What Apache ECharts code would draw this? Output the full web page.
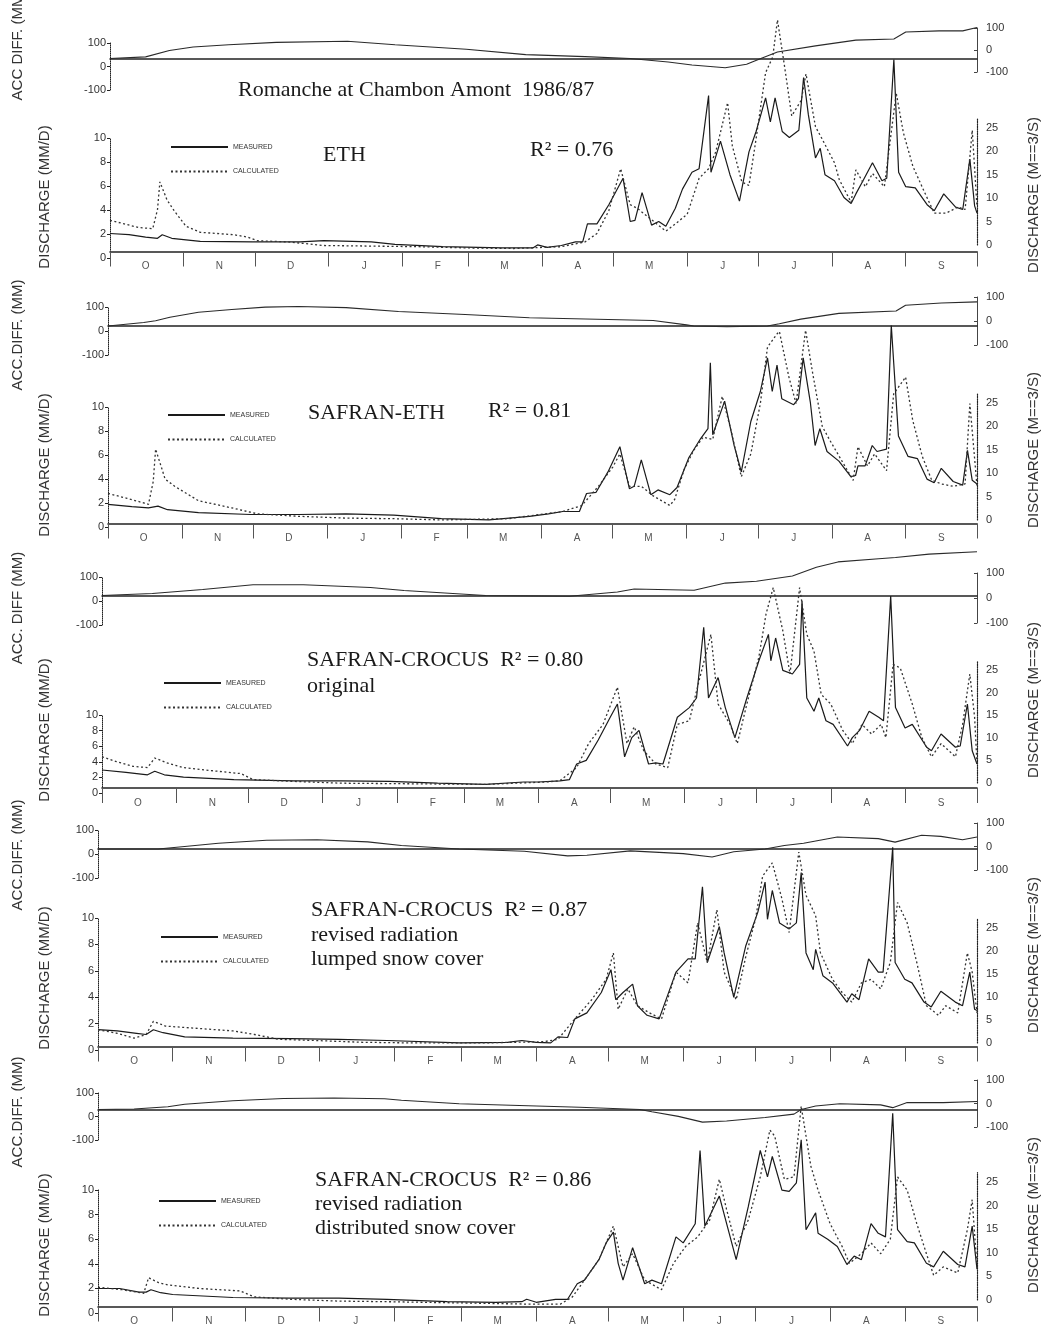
<!DOCTYPE html>
<html>
<head>
<meta charset="utf-8">
<script src="https://cdn.jsdelivr.net/npm/echarts@6/dist/echarts.min.js"></script>
<style>
  html, body { margin: 0; padding: 0; background: #fff; }
  #chart { width: 1046px; height: 1338px; }
</style>
</head>
<body>
<div id="chart"></div>
<script>
// hydrological year Oct 1986 - Sep 1987, x = day index from 1 Oct
const monthStarts = [0, 31, 61, 92, 123, 151, 182, 212, 243, 273, 304, 335, 365];
const monthMids = [15, 46, 76, 107, 138, 166, 197, 227, 258, 288, 319, 350];
const monthLetters = ['O', 'N', 'D', 'J', 'F', 'M', 'A', 'M', 'J', 'J', 'A', 'S'];

// --- ETH (discharge mm/d, [day, value]) ---
const measured1 = [[0,1.5],[8,1.4],[15,1.2],[20,1.1],[22,1.4],[26,1.1],[38,0.85],[60,0.8],[80,0.8],[90,0.9],[110,0.8],[120,0.6],[140,0.4],[165,0.3],[178,0.3],[180,0.55],[184,0.35],[190,0.5],[196,0.8],[199,0.8],[201,2.3],[205,2.3],[210,3.9],[213,5.0],[216,6.1],[219,2.5],[221,2.6],[224,4.9],[228,2.2],[231,2.5],[234,2.1],[238,3.6],[241,5.2],[245,6.6],[248,6.9],[252,13],[253,6.6],[257,9.2],[261,6.4],[265,4.2],[269,8.3],[272,10],[276,12.8],[278,10.8],[280,12.8],[283,10],[286,9.5],[290,10.1],[292,14.5],[294,11.4],[297,7.8],[299,8.6],[301,6.4],[305,5.9],[309,4.5],[312,4.0],[314,4.8],[317,5.9],[321,7.4],[325,5.9],[327,6.1],[330,16],[332,6.6],[335,5.4],[339,5.3],[344,3.9],[347,3.4],[351,4.8],[356,3.7],[359,3.5],[362,7.7],[364,3.8],[365,3.2]];
const calculated1 = [[0,2.6],[6,2.3],[12,2.0],[18,1.9],[20,3.5],[21,5.8],[24,4.3],[27,3.4],[32,2.1],[38,1.6],[52,1.4],[58,1.2],[62,0.9],[75,0.8],[90,0.5],[110,0.45],[130,0.4],[150,0.3],[170,0.25],[190,0.4],[200,0.8],[205,1.5],[210,3.4],[215,6.9],[219,3.9],[222,3.6],[227,2.8],[234,1.7],[238,2.3],[243,3.1],[248,6.1],[252,6.9],[255,8.3],[260,12.4],[262,8.8],[266,5.8],[269,5.5],[272,9.4],[276,14.9],[279,16.2],[281,19.3],[284,15.4],[287,11.3],[291,12.6],[293,14.8],[297,10.4],[300,9.3],[305,7.4],[307,6.0],[312,4.1],[314,6.8],[318,5.4],[321,6.5],[326,5.4],[331,13.2],[334,9.9],[338,7.1],[343,4.9],[347,3.2],[352,3.2],[357,3.7],[360,3.5],[363,10.1],[365,3.7]];
const accDiff1 = [[0,0],[15,7],[25,35],[35,50],[50,60],[70,70],[100,75],[120,60],[150,40],[175,17],[200,8],[219,0],[235,-15],[245,-28],[259,-40],[268,-25],[274,0],[281,28],[297,55],[314,80],[330,85],[335,115],[349,120],[359,120],[365,135]];

// --- SAFRAN-ETH ---
const measured2 = [[0,1.6],[10,1.4],[17,1.3],[21,1.45],[25,1.15],[38,0.9],[60,0.75],[80,0.75],[100,0.8],[120,0.7],[140,0.4],[160,0.3],[177,0.6],[185,0.8],[191,1.0],[198,1.0],[201,2.5],[205,2.6],[210,4.3],[215,6.4],[219,2.9],[221,3.1],[224,5.3],[228,2.4],[231,2.8],[236,2.4],[239,3.0],[244,5.5],[249,7.1],[252,7.9],[253,13.4],[254,7.4],[259,10.2],[263,6.5],[266,4.3],[270,8.5],[274,11],[277,13.8],[279,11],[281,13.2],[283,10.4],[288,9.9],[290,10.4],[292,13.8],[295,10.1],[297,6.5],[299,7.9],[302,6.0],[307,5.2],[312,3.9],[314,4.0],[315,4.8],[318,4.8],[321,6.5],[323,6.0],[327,6.2],[329,16.5],[332,7.3],[336,5.6],[340,5.4],[344,3.7],[347,3.4],[350,4.6],[355,3.5],[359,3.2],[361,6.1],[363,3.6],[365,3.3]];
const calculated2 = [[0,2.5],[8,2.1],[17,1.6],[19,3.5],[20,6.2],[24,3.7],[28,3.1],[38,1.9],[52,1.3],[63,0.8],[80,0.6],[100,0.45],[120,0.4],[140,0.3],[168,0.4],[191,1.0],[199,1.5],[206,3.1],[212,4.7],[215,5.8],[219,3.1],[224,3.1],[229,2.3],[236,1.5],[238,2.0],[242,4.5],[246,6.1],[250,7.2],[254,7.0],[258,10.6],[262,7.5],[266,3.9],[270,5.8],[274,10],[277,14.7],[281,15.8],[282,16],[286,12.2],[289,10],[293,16.1],[296,12.5],[300,8.1],[303,7],[308,5.3],[313,3.6],[315,6.4],[319,4.8],[322,5.8],[327,4.4],[330,10.8],[335,12.2],[338,8.6],[342,5.6],[346,3.6],[350,3.3],[355,3.1],[360,3.3],[362,10],[365,3.1]];
const accDiff2 = [[0,0],[15,15],[20,23],[26,38],[38,60],[52,72],[66,82],[80,85],[100,80],[122,63],[150,50],[177,36],[229,24],[243,5],[246,0],[260,-3],[277,0],[282,10],[291,30],[307,55],[331,65],[335,90],[350,100],[365,105]];

// --- SAFRAN-CROCUS original ---
const measured3 = [[0,1.5],[10,1.3],[19,1.1],[22,1.4],[26,1.1],[34,0.9],[55,0.7],[80,0.6],[100,0.6],[120,0.55],[140,0.4],[160,0.3],[176,0.5],[182,0.5],[191,0.6],[195,0.7],[198,2.0],[202,2.3],[207,4.0],[212,5.9],[215,7.0],[218,2.6],[221,4.2],[224,4.8],[228,2.0],[231,2.1],[234,2.0],[240,5.9],[245,6.7],[248,7.5],[251,13.4],[253,7.5],[257,9.2],[260,6.7],[264,4.2],[269,7.5],[274,10.6],[278,12.8],[279,10.6],[281,12.5],[284,9.8],[288,9.5],[291,10.3],[292,15.6],[294,7.5],[297,6.4],[299,7.5],[302,5.6],[305,5.3],[311,3.5],[313,4.2],[316,4.8],[320,6.4],[324,5.9],[326,5.6],[329,16],[331,6.7],[335,5.0],[338,5.3],[344,3.4],[346,3.1],[350,4.5],[356,3.4],[358,3.5],[361,7.0],[363,3.1],[365,2.0]];
const calculated3 = [[0,2.6],[6,2.2],[13,1.8],[19,1.7],[22,2.5],[27,2.1],[34,1.7],[48,1.4],[58,1.2],[63,0.7],[80,0.55],[100,0.4],[130,0.35],[160,0.3],[185,0.5],[191,0.6],[198,1.7],[203,3.7],[209,5.3],[215,8.4],[219,3.7],[222,5.1],[226,3.1],[231,2.0],[236,1.7],[240,5.3],[245,5.6],[249,8.9],[254,12.8],[257,7.0],[262,5.3],[265,3.7],[269,7.0],[274,10.9],[277,14.5],[280,16.7],[284,13.1],[287,9.5],[291,16.7],[294,12.8],[297,11.4],[300,7.8],[304,7.0],[309,4.8],[313,3.7],[317,5.3],[321,4.5],[325,5.3],[327,4.2],[330,10.3],[333,10],[338,7.0],[342,4.2],[346,2.6],[350,3.7],[356,2.6],[359,5.3],[362,9.5],[364,5.9],[365,2.0]];
const accDiff3 = [[0,0],[21,9],[42,26],[63,47],[84,47],[112,35],[126,22],[160,0],[195,-3],[215,15],[222,28],[247,23],[260,54],[273,62],[288,85],[298,123],[307,146],[324,160],[331,165],[345,180],[365,190]];

// --- SAFRAN-CROCUS revised radiation, lumped snow cover ---
const measured4 = [[0,1.4],[8,1.3],[16,1.1],[20,1.0],[23,1.4],[27,1.15],[36,0.8],[56,0.7],[80,0.65],[100,0.6],[120,0.5],[150,0.3],[170,0.35],[176,0.5],[182,0.35],[188,0.3],[191,0.8],[195,0.75],[198,2.3],[203,2.8],[209,4.5],[213,6.4],[215,3.9],[218,4.5],[222,5.2],[224,3.4],[228,2.6],[233,2.3],[240,6.2],[245,7.3],[248,7.3],[251,13.3],[253,7.0],[258,10],[260,7.8],[264,4.1],[269,8.4],[274,11.2],[277,13.7],[278,10.6],[280,13],[283,10.3],[287,9.8],[290,10.3],[292,14.5],[294,7.8],[297,6.4],[298,8.1],[301,5.9],[305,5.3],[311,3.7],[313,4.4],[316,3.9],[320,7.3],[324,6.2],[326,6.2],[330,16.6],[331,7.0],[335,5.6],[338,5.3],[343,3.7],[346,3.3],[350,4.6],[356,3.7],[359,3.4],[362,6.2],[364,3.1],[365,3.0]];
const calculated4 = [[0,1.4],[8,1.1],[15,0.7],[20,1.0],[23,2.1],[28,1.7],[42,1.5],[56,1.3],[65,1.0],[75,0.6],[90,0.5],[110,0.35],[130,0.3],[160,0.3],[185,0.4],[191,0.6],[198,2.3],[205,3.9],[211,5.6],[214,7.8],[216,3.1],[220,4.8],[224,3.4],[229,2.8],[234,2.3],[240,6.2],[245,5.3],[249,10.3],[253,7.0],[257,11.4],[260,6.2],[265,3.9],[269,7.5],[273,10.6],[276,14.2],[280,15.3],[284,12.3],[287,9.5],[291,16.2],[294,12.6],[298,10.9],[300,7.8],[305,5.6],[309,4.5],[313,3.7],[317,5.3],[321,5.6],[325,4.8],[329,7.0],[332,12],[336,10.3],[340,7.0],[344,3.4],[349,2.6],[352,3.4],[357,2.8],[361,7.8],[363,6.2],[365,2.8]];
const accDiff4 = [[0,0],[25,0],[36,11],[50,25],[70,38],[91,40],[112,31],[126,15],[150,0],[177,-10],[195,-30],[203,-27],[221,-8],[243,-20],[255,-35],[264,-12],[277,0],[285,15],[293,25],[307,52],[324,45],[331,30],[342,60],[350,55],[359,40],[365,52]];

// --- SAFRAN-CROCUS revised radiation, distributed snow cover ---
const measured5 = [[0,1.5],[9,1.5],[17,1.2],[20,1.2],[22,1.4],[26,1.15],[31,1.0],[56,0.75],[80,0.7],[100,0.7],[120,0.6],[145,0.4],[165,0.35],[176,0.4],[178,0.6],[182,0.35],[190,0.6],[195,0.6],[199,1.9],[202,2.2],[208,3.9],[211,5.3],[214,6.2],[216,3.6],[218,2.2],[222,4.9],[227,1.9],[230,2.2],[234,1.9],[240,5.8],[243,5.3],[248,6.9],[250,13],[252,6.7],[258,9.2],[265,3.9],[270,8.3],[275,13],[278,10.8],[280,12.5],[284,9.7],[287,9.6],[290,10.3],[292,13.9],[294,6.4],[298,7.8],[299,6.1],[303,5.6],[307,5.0],[311,3.5],[314,4.2],[317,3.9],[321,6.9],[324,6.1],[327,5.8],[330,16.1],[332,6.4],[336,5.4],[339,5.3],[344,3.6],[347,3.3],[351,4.6],[357,3.5],[360,3.3],[363,6.7],[365,3.1]];
const calculated5 = [[0,1.6],[10,1.4],[19,1.1],[21,2.4],[25,2.0],[29,1.8],[42,1.5],[59,1.3],[65,0.8],[80,0.6],[100,0.45],[120,0.4],[150,0.3],[178,0.2],[192,0.2],[197,0.8],[202,2.2],[208,3.9],[214,6.7],[218,3.3],[222,4.4],[227,2.2],[234,1.4],[239,3.6],[244,5.0],[249,5.8],[254,7.2],[258,10.6],[261,8.1],[265,5.0],[270,7.2],[275,10.8],[279,14.7],[281,14.2],[285,10.6],[289,10.8],[292,16.7],[296,11.7],[299,9.7],[304,6.9],[309,5.0],[312,3.6],[317,4.4],[321,5.3],[325,4.4],[329,5.6],[332,10.8],[336,9.7],[340,6.9],[344,4.4],[347,2.6],[351,3.3],[357,2.8],[361,6.4],[363,8.9],[365,3.3]];
const accDiff5 = [[0,0],[15,2],[29,12],[36,23],[56,38],[77,48],[98,50],[119,47],[126,40],[150,25],[200,10],[225,0],[230,-10],[241,-30],[251,-55],[261,-50],[277,-35],[289,-20],[292,0],[298,15],[308,25],[325,20],[330,8],[336,30],[351,30],[365,35]];

const INK = '#222';
const SANS = '"Liberation Sans", Arial, sans-serif';
const SERIF = '"Liberation Serif", "Times New Roman", serif';
const RIGHT_X = 977;
const MM_MAX = 20, PX_PER_MM = 12, ACC_HALF = 23;

// layout of each panel (pixel positions)
const panels = [
  { meas: measured1, calc: calculated1, acc: accDiff1, left: 110, acc0: 58.5, base: 251.5,
    accL: [43, 90], accR: [28, 72], disL: [138, 258], disR: [128, 245],
    accTitle: ['ACC DIFF. (MM)', 45], disTitle: 197, rTitle: 195, legend: [170, 147],
    notes: [['Romanche at Chambon Amont  1986/87', 238, 90], ['ETH', 323, 155], ['R² = 0.76', 530, 150]] },
  { meas: measured2, calc: calculated2, acc: accDiff2, left: 108, acc0: 326, base: 523.5,
    accL: [307, 355], accR: [297, 345], disL: [407, 527], disR: [403, 520],
    accTitle: ['ACC.DIFF. (MM)', 335], disTitle: 465, rTitle: 450, legend: [167, 415],
    notes: [['SAFRAN-ETH', 308, 413], ['R² = 0.81', 488, 411]] },
  { meas: measured3, calc: calculated3, acc: accDiff3, left: 102, acc0: 595.5, base: 788,
    accL: [577, 625], accR: [573, 623], disL: [715, 793], disR: [670, 783],
    accTitle: ['ACC. DIFF (MM)', 608], disTitle: 730, rTitle: 700, legend: [163, 683],
    notes: [['SAFRAN-CROCUS  R² = 0.80', 307, 660], ['original', 307, 686]] },
  { meas: measured4, calc: calculated4, acc: accDiff4, left: 98, acc0: 849, base: 1046.5,
    accL: [830, 878], accR: [823, 870], disL: [918, 1050], disR: [928, 1043],
    accTitle: ['ACC.DIFF. (MM)', 855], disTitle: 978, rTitle: 955, legend: [160, 937],
    notes: [['SAFRAN-CROCUS  R² = 0.87', 311, 910], ['revised radiation', 311, 935], ['lumped snow cover', 311, 959]] },
  { meas: measured5, calc: calculated5, acc: accDiff5, left: 98, acc0: 1109.5, base: 1306.5,
    accL: [1093, 1140], accR: [1080, 1127], disL: [1190, 1313], disR: [1182, 1300],
    accTitle: ['ACC.DIFF. (MM)', 1112], disTitle: 1245, rTitle: 1215, legend: [158, 1201],
    notes: [['SAFRAN-CROCUS  R² = 0.86', 315, 1180], ['revised radiation', 315, 1204], ['distributed snow cover', 315, 1228]] }
];

const grids = [], xAxes = [], yAxes = [], series = [], legends = [], graphics = [];

function addGrid(grid, xAxis, yAxis) {
  grids.push(grid);
  const gi = grids.length - 1;
  xAxes.push(Object.assign({ gridIndex: gi }, xAxis));
  yAxes.push(Object.assign({ gridIndex: gi }, yAxis));
  return gi;
}

const hiddenX = { type: 'value', min: 0, max: 1, show: false };
const noSplit = { show: false };
const tickLabel = { fontSize: 11, color: '#333', fontFamily: SANS };

panels.forEach((p) => {
  const right = 1046 - RIGHT_X;

  // accumulated difference strip
  const ga = addGrid(
    { left: p.left, right, top: p.acc0 - ACC_HALF, height: ACC_HALF * 2 },
    { type: 'value', min: 0, max: 365, axisLine: { onZero: true, lineStyle: { color: INK, width: 1.5 } },
      axisTick: { show: false }, axisLabel: { show: false }, splitLine: noSplit },
    { type: 'value', min: -100, max: 100, axisLine: { show: false }, axisTick: { show: false },
      axisLabel: { show: false }, splitLine: noSplit }
  );

  // discharge panel with month axis
  const gd = addGrid(
    { left: p.left, right, top: p.base - MM_MAX * PX_PER_MM, height: MM_MAX * PX_PER_MM },
    { type: 'value', min: 0, max: 365,
      axisLine: { lineStyle: { color: INK, width: 1.6 } },
      axisTick: { customValues: monthStarts, length: 15, lineStyle: { color: '#555', width: 1 } },
      axisLabel: { customValues: monthMids, margin: 10, fontSize: 10, color: '#555', fontFamily: SANS,
        formatter: (v) => monthLetters[monthMids.indexOf(v)] || '' },
      splitLine: noSplit },
    { type: 'value', min: 0, max: MM_MAX, axisLine: { show: false }, axisTick: { show: false },
      axisLabel: { show: false }, splitLine: noSplit }
  );

  // left acc axis
  addGrid({ left: p.left, width: 1, top: p.accL[0], height: p.accL[1] - p.accL[0] }, hiddenX,
    { type: 'value', position: 'left', min: -100, max: 100, interval: 100,
      axisLine: { show: true, lineStyle: { color: INK, type: 'dotted' } },
      axisTick: { show: true, length: 3, lineStyle: { color: INK } },
      axisLabel: Object.assign({ margin: 4 }, tickLabel), splitLine: noSplit });
  // right acc axis
  addGrid({ left: RIGHT_X, width: 1, top: p.accR[0], height: p.accR[1] - p.accR[0] }, hiddenX,
    { type: 'value', position: 'right', min: -100, max: 100, interval: 100,
      axisLine: { show: true, lineStyle: { color: '#444' } },
      axisTick: { show: true, length: 3, inside: true, lineStyle: { color: '#444' } },
      axisLabel: Object.assign({ margin: 8 }, tickLabel), splitLine: noSplit });
  // left discharge axis (mm/d)
  addGrid({ left: p.left, width: 1, top: p.disL[0], height: p.disL[1] - p.disL[0] }, hiddenX,
    { type: 'value', position: 'left', min: 0, max: 10, interval: 2,
      axisLine: { show: true, lineStyle: { color: INK, type: 'dotted' } },
      axisTick: { show: true, length: 3, lineStyle: { color: INK } },
      axisLabel: Object.assign({ margin: 4 }, tickLabel), splitLine: noSplit });
  // right discharge axis (m3/s)
  const rTop = p.disR[1] - (p.disR[1] - p.disR[0]) * 27 / 25;
  addGrid({ left: RIGHT_X, width: 1, top: rTop, height: p.disR[1] - rTop }, hiddenX,
    { type: 'value', position: 'right', min: 0, max: 27, interval: 5,
      axisLine: { show: true, lineStyle: { color: INK, type: 'dotted', width: 1.2 } },
      axisTick: { show: false },
      axisLabel: Object.assign({ margin: 8, formatter: (v) => (v <= 25 ? v : '') }, tickLabel),
      splitLine: noSplit });

  series.push({
    name: 'MEASURED', type: 'line', xAxisIndex: gd, yAxisIndex: gd, data: p.meas,
    symbol: 'none', clip: false, z: 3, itemStyle: { color: '#1a1a1a' },
    lineStyle: { color: '#1a1a1a', width: 1.2 }
  });
  series.push({
    name: 'CALCULATED', type: 'line', xAxisIndex: gd, yAxisIndex: gd, data: p.calc,
    symbol: 'none', clip: false, z: 3, itemStyle: { color: '#333' },
    lineStyle: { color: '#333', width: 1.3, type: [2, 2.5] }
  });
  series.push({
    name: 'acc', type: 'line', xAxisIndex: ga, yAxisIndex: ga, data: p.acc,
    symbol: 'none', clip: false, z: 2, lineStyle: { color: '#2a2a2a', width: 1.1 }
  });

  legends.push({
    left: p.legend[0], top: p.legend[1] - 4, orient: 'vertical', padding: 0,
    itemWidth: 57, itemHeight: 8, itemGap: 16.5, selectedMode: false,
    itemStyle: { opacity: 0 },
    textStyle: { fontSize: 7, lineHeight: 8, color: '#333', fontFamily: SANS },
    data: ['MEASURED', 'CALCULATED']
  });

  graphics.push({ type: 'text', x: 18, y: p.accTitle[1], rotation: Math.PI / 2,
    style: { text: p.accTitle[0], align: 'center', verticalAlign: 'middle', font: '15px ' + SANS, fill: '#333' } });
  graphics.push({ type: 'text', x: 45, y: p.disTitle, rotation: Math.PI / 2,
    style: { text: 'DISCHARGE (MM/D)', align: 'center', verticalAlign: 'middle', font: '15px ' + SANS, fill: '#333' } });
  graphics.push({ type: 'text', x: 1034, y: p.rTitle, rotation: Math.PI / 2,
    style: { text: 'DISCHARGE (M==3/S)', align: 'center', verticalAlign: 'middle', font: '15px ' + SANS, fill: '#333' } });
  p.notes.forEach(([t, x, y]) => {
    graphics.push({ type: 'text', x, y,
      style: { text: t, align: 'left', verticalAlign: 'middle', font: '22px ' + SERIF, fill: '#1a1a1a' } });
  });
});

const chart = echarts.init(document.getElementById('chart'), null, { renderer: 'canvas' });
chart.setOption({
  backgroundColor: '#ffffff',
  animation: false,
  grid: grids,
  xAxis: xAxes,
  yAxis: yAxes,
  legend: legends,
  series,
  graphic: graphics
});
</script>
</body>
</html>
